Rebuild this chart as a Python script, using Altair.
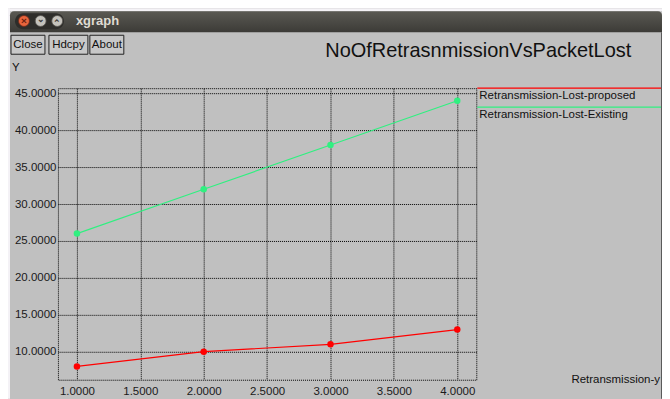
import altair as alt
import pandas as pd

# ---- data ----
x_vals = [1, 2, 3, 4]
proposed = [8, 10, 11, 13]
existing = [26, 32, 38, 44]
series_names = ["Retransmission-Lost-proposed", "Retransmission-Lost-Existing"]
series_colors = ["#ff0000", "#30f080"]
x_ticks = [1.0, 1.5, 2.0, 2.5, 3.0, 3.5, 4.0]
y_ticks = [10, 15, 20, 25, 30, 35, 40, 45]
chart_title = "NoOfRetrasnmissionVsPacketLost"
buttons = ["Close", "Hdcpy", "About"]

df = pd.DataFrame({
    "x": x_vals + x_vals,
    "y": proposed + existing,
    "s": [series_names[0]] * len(x_vals) + [series_names[1]] * len(x_vals),
})
one = pd.DataFrame({"k": [0]})

FONT = "Liberation Sans"
W, H = 419, 292

xs = alt.Scale(domain=[0.85, 4.15], nice=False, zero=False)
ys = alt.Scale(domain=[6.2, 45.7], nice=False, zero=False)
color = alt.Color("s:N", scale=alt.Scale(domain=series_names, range=series_colors), legend=None)

grid_kw = dict(grid=True, gridColor="#000", gridDash=[1, 1], gridOpacity=1, gridWidth=1,
               domain=False, ticks=False, labelFont=FONT, labelFontSize=11.5,
               labelColor="#1a1a1a", format=".4f", title=None)

xaxis = alt.Axis(values=x_ticks, labelPadding=6, labelFlush=False, **grid_kw)
yaxis = alt.Axis(values=y_ticks, labelPadding=2, **grid_kw)

base = alt.Chart(df)
lines = base.mark_line(strokeWidth=1.2).encode(
    x=alt.X("x:Q", scale=xs, axis=xaxis),
    y=alt.Y("y:Q", scale=ys, axis=yaxis),
    color=color,
)
points = base.mark_circle(size=42, opacity=1).encode(
    x=alt.X("x:Q", scale=xs),
    y=alt.Y("y:Q", scale=ys),
    color=color,
)


def rect(x, x2, y, y2, **kw):
    return alt.Chart(one).mark_rect(**kw).encode(
        x=alt.value(x), x2=alt.value(x2), y=alt.value(y), y2=alt.value(y2))


def text(t, x, y, size=11.5, align="left", **kw):
    return alt.Chart(one).mark_text(text=t, align=align, baseline="middle",
                                    font=FONT, fontSize=size, **kw).encode(
        x=alt.value(x), y=alt.value(y))


def dot(x, y, size, c, **kw):
    return alt.Chart(one).mark_point(filled=True, size=size, opacity=1, **kw).encode(
        x=alt.value(x), y=alt.value(y), color=alt.value(c))


title_grad = alt.LinearGradient(
    gradient="linear",
    stops=[alt.GradientStop(color="#5a5953", offset=0),
           alt.GradientStop(color="#3c3b37", offset=1)],
    x1=0, x2=0, y1=0, y2=1)

CY = -67.3
decor = [
    rect(-50, 605, -80, -77, fill="#f4f2f6"),
    rect(-50, -48, -80, 311, fill="#f4f2f6"),
    rect(-48, 605, -77, -56, fill=title_grad, cornerRadiusTopLeft=4, cornerRadiusTopRight=4),
    rect(604, 605, -56, 311, fill="#5a5a5a"),
    rect(-43, 6, -75, -59, fill="#2e2d2a", cornerRadius=8),
    dot(-34, CY, 120, "#e8643c", stroke="#6a2a1c", strokeWidth=0.8),
    dot(-17.3, CY, 120, "#c4c2bc", stroke="#55534e", strokeWidth=0.8),
    dot(-0.7, CY, 120, "#c4c2bc", stroke="#55534e", strokeWidth=0.8),
    text("×", -34, CY, size=10, align="center", color="#6a2010", fontWeight="bold"),
    text("⌄", -17.3, CY - 1.5, size=9, align="center", color="#3c3b37", fontWeight="bold"),
    text("⌃", -0.7, CY + 2.5, size=9, align="center", color="#3c3b37", fontWeight="bold"),
    text("xgraph", 18, CY, size=13, color="#dfdbd2", fontWeight="bold"),
]

btn_pos = [(-47, -13), (-9, 30), (32, 66)]
for name, (bx, bx2) in zip(buttons, btn_pos):
    decor.append(rect(bx, bx2, -53, -34, fill="#c8c8c8", stroke="#222", strokeWidth=1))
    decor.append(text(name, (bx + bx2) / 2, -43.5, size=11.5, align="center", color="#111"))

decor += [
    text(chart_title, 421, -37, size=20, align="center", color="#111"),
    text("Y", -46, -20, size=11.5, color="#111"),
    text("Retransmission-y", 603, 292, size=11.5, align="right", color="#111"),
]

legend = []
for i, (nm, c) in enumerate(zip(series_names, series_colors)):
    ly = 0 + 19 * i
    legend.append(alt.Chart(one).mark_rule(strokeWidth=1.2).encode(
        x=alt.value(420), x2=alt.value(604), y=alt.value(ly), color=alt.value(c)))
    legend.append(text(nm, 422, ly + 7.5, size=11.5, color="#111"))

chart = alt.layer(*decor, *legend, lines, points).properties(
    width=W, height=H,
    padding={"left": 50, "top": 80, "right": 186, "bottom": 20},
    autosize=alt.AutoSizeParams(type="none"),
    background="#c0c0c0",
).configure_view(stroke="#000", strokeDash=[1, 1], strokeWidth=1)

chart.save("out.html", embed_options={"renderer": "svg", "actions": False})
